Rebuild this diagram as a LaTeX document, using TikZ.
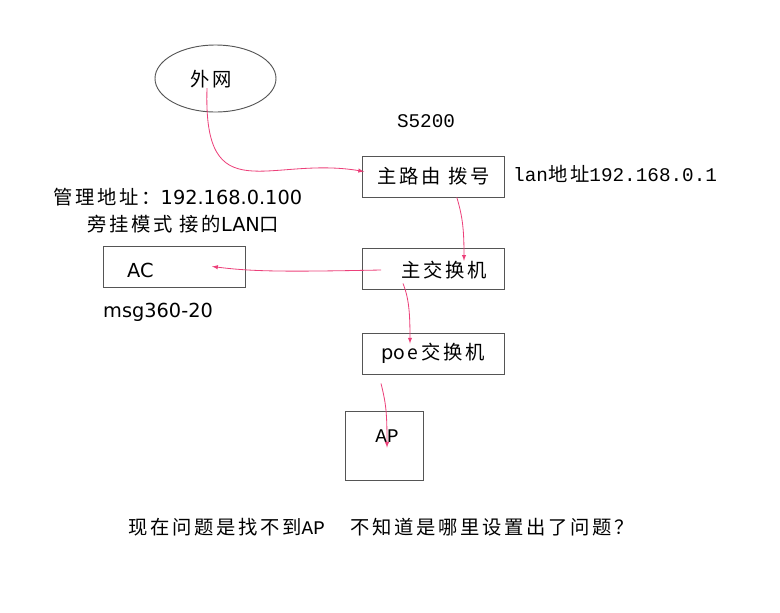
\documentclass[tikz,border=0pt]{standalone}
\usepackage{fontspec}
\setmainfont{DejaVu Sans}
\newfontfamily\zh[LetterSpace=14]{Noto Sans CJK SC}
\newfontfamily\mono{Liberation Mono}
\usetikzlibrary{shapes.geometric}
\definecolor{linkpink}{RGB}{236,64,122}
\definecolor{boxgray}{RGB}{85,85,85}
\tikzset{
  txt/.style={inner sep=0pt, font=\fontsize{16.5}{20}\selectfont},
  box/.style={txt, draw=boxgray, line width=0.8pt, rectangle, minimum width=4.26cm, minimum height=1.23cm},
  link/.style={draw=linkpink, line width=0.7pt, -latex},
}
\begin{document}
\begin{tikzpicture}[x=0.03cm, y=-0.03cm]
        \useasboundingbox (0,0) rectangle (780,612);
        %boxes
        \node[draw=boxgray, line width=0.8pt, ellipse, minimum width=3.63cm, minimum height=2.01cm] (wan) at (215.5,78.5) {};
        \node[box] (router) at (433.5,176.5) {\zh 主路由 拨号};
        \node[box] (ac) at (174,266.5) {};
        \node[box] (core) at (433,268.5) {};
        \node[box] (poe) at (433,353.5) {p{\zh oe交换机}};
        \node[box, minimum width=2.34cm, minimum height=2.07cm] (ap) at (384,445.5) {};
        %label
        \node[txt] (wan-lbl) at (211,79) {\zh 外网};
        \node[txt] (s5200) at (426,121) {\mono S5200};
        \node[txt, anchor=west] (lan) at (513,174) {{\mono lan}{\zh 地址}{\mono 192.168.0.1}};
        \node[txt, anchor=west] (mgmt) at (53,197) {{\zh 管理地址：}192.168.0.100};
        \node[txt, anchor=west] (mode) at (87,224) {{\zh 旁挂模式 接的}LAN{\zh 口}};
        \node[txt, anchor=west] (ac-lbl) at (127,270) {AC};
        \node[txt] (core-lbl) at (444,270) {\zh 主交换机};
        \node[txt, anchor=west] (model) at (103,312) {msg360-20};
        \node[txt] (ap-lbl) at (387,436) {\mono AP};
        \node[txt] (question) at (381,527) {{\zh 现在问题是找不到}{\mono AP}\hspace{1.3em}{\zh 不知道是哪里设置出了问题？}};
        %links
        \draw[link] ([xshift=-1.2mm]wan-lbl.south) .. controls +(-4,125) and +(-95,-16) .. ([xshift=0.6mm,yshift=1.5mm]router.west);
        \draw[link] ([xshift=7mm]router.south) .. controls +(6,20) and +(0,-30) .. ([xshift=6mm]core-lbl.north);
        \draw[link] ([xshift=-6mm]core-lbl.west) .. controls +(-100,2) and +(40,5) .. ([xshift=-1cm]ac.east);
        \draw[link] ([xshift=-9mm,yshift=1.8mm]core.south) .. controls +(6,15) and +(0,-30) .. ([xshift=-6.9mm,yshift=-3.3mm]poe.north);
        \draw[link] ([xshift=-1.56cm,yshift=-2.7mm]poe.south) .. controls +(5,20) and +(0,-35) .. ([yshift=-1.5mm]ap-lbl.south);
\end{tikzpicture}
\end{document}
